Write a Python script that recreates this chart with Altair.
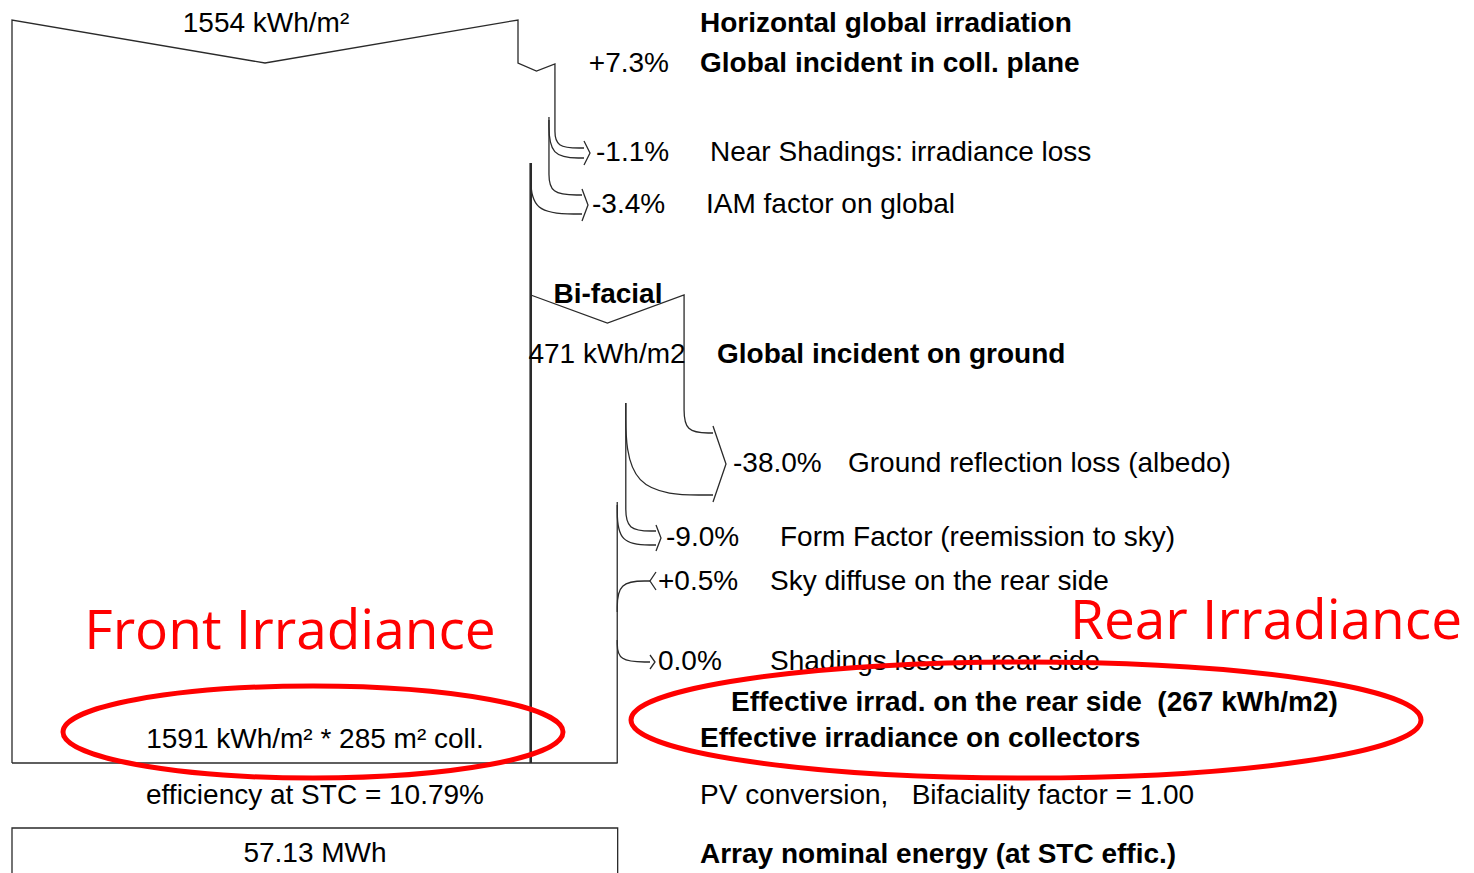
import altair as alt
import pandas as pd

# ---------------- chart values ----------------
horiz_global = 1554                      # kWh/m²
front_steps_pct = [7.3, -1.1, -3.4]
front_step_labels = ["Global incident in coll. plane",
                     "Near Shadings: irradiance loss",
                     "IAM factor on global"]
ground_global = 471                      # kWh/m2
rear_steps_pct = [-38.0, -9.0, 0.5, 0.0]
rear_step_labels = ["Ground reflection loss (albedo)",
                    "Form Factor (reemission to sky)",
                    "Sky diffuse on the rear side",
                    "Shadings loss on rear side"]
front_effective = 1591                   # kWh/m²
collector_area = 285                     # m²
rear_effective = 267                     # kWh/m2
stc_efficiency = 10.79                   # %
bifaciality = 1.00
array_energy = 57.13                     # MWh
annotations = ["Front Irradiance", "Rear Irradiance"]

# ---------------- layout (pixel space of the page) ----------------
W, H = 1458, 865
X0 = 12.0
K = 506.0 / horiz_global                  # px per kWh/m² of flow width


def xf(v, base=X0):
    return base + K * v


def pct_txt(p):
    return f"{p:.1f}%" if p == 0 else f"{p:+.1f}%"


# flow levels from the values
f0 = horiz_global
f1 = f0 * (1 + front_steps_pct[0] / 100)
f2 = f1 * (1 + front_steps_pct[1] / 100)
f3 = f2 * (1 + front_steps_pct[2] / 100)
r0 = ground_global
r1 = r0 * (1 + rear_steps_pct[0] / 100)
r2 = r1 * (1 + rear_steps_pct[1] / 100)
r3 = r2 * (1 + rear_steps_pct[2] / 100)

xa, xb, xc, xd = xf(f0), xf(f1), xf(f2), xf(f3)
xr0, xr1, xr2, xr3 = xf(r0, xd), xf(r1, xd), xf(r2, xd), xf(r3, xd)

# straight polylines
polys = [
    ([(X0, 763), (X0, 20), ((X0 + xa) / 2, 63), (xa, 20), (xa, 63),
      ((xa + xb) / 2, 71), (xb, 64), (xb, 128)], 1.3),
    ([(xc, 117), (xc, 170)], 1.3),
    ([(xd, 163), (xd, 763)], 2.6),
    ([(xd, 295), ((xd + xr0) / 2, 323), (xr0, 295), (xr0, 405)], 1.3),
    ([(xr1, 403), (xr1, 505)], 1.3),
    ([(xr2, 502), (xr2, 763)], 1.3),
    ([(X0, 763), (xr3, 763)], 1.3),
    ([(X0, 880), (X0, 828), (xr3, 828), (xr3, 880)], 1.3),
    # arrow heads
    ([(584, 141), (590, 153), (584, 165)], 1.3),
    ([(582, 189), (588, 205), (582, 221)], 1.3),
    ([(713, 426), (726, 464), (713, 502)], 1.3),
    ([(656, 525), (661, 538), (656, 551)], 1.3),
    ([(656, 572), (650, 581), (656, 590)], 1.3),
    ([(650, 655), (655, 662), (650, 669)], 1.3),
]
# curved branches: start, corner, end
curves = [
    [(xb, 128), (xb, 148), (584, 148)],
    [(xc, 120), (xc, 158), (584, 158)],
    [(xc, 170), (xc, 195), (582, 195)],
    [(xd, 172), (xd, 214), (582, 214)],
    [(xr0, 405), (xr0, 433), (713, 433)],
    [(xr1, 403), (xr1, 495), (713, 495)],
    [(xr1, 505), (xr1, 531), (656, 531)],
    [(xr2, 505), (xr2, 545), (656, 545)],
    [(xr2, 612), (xr2, 581), (650, 581)],
    [(xr2, 640), (xr2, 662), (650, 662)],
]

rows = []
for i, (pts, sw) in enumerate(polys):
    for k, (x, y) in enumerate(pts):
        rows.append({"id": i, "k": k, "x": x, "y": y, "sw": sw})
poly_df = pd.DataFrame(rows)
rows = []
for i, pts in enumerate(curves):
    for k, (x, y) in enumerate(pts):
        rows.append({"id": i, "k": k, "x": x, "y": y})
curve_df = pd.DataFrame(rows)

xs = alt.Scale(domain=[8, 8 + W], nice=False, zero=False)
ys = alt.Scale(domain=[8, 8 + H], nice=False, zero=False, reverse=True)
X = alt.X("x:Q", scale=xs, axis=None)
Y = alt.Y("y:Q", scale=ys, axis=None)

lines = alt.Chart(poly_df).mark_line(color="#2a2a2a", clip=False).encode(
    x=X, y=Y, detail="id:N", order="k:Q",
    strokeWidth=alt.StrokeWidth("sw:Q", scale=None))
clines = alt.Chart(curve_df).mark_line(color="#2a2a2a", strokeWidth=1.3,
                                       interpolate="basis", clip=False).encode(
    x=X, y=Y, detail="id:N", order="k:Q")

NB = "\u00a0"
FONT = "Liberation Sans"


def tl(items, align, weight="normal", size=28, color="black", font=FONT):
    df = pd.DataFrame(items, columns=["x", "y", "t"])
    return alt.Chart(df).mark_text(align=align, baseline="middle", fontSize=size,
                                   fontWeight=weight, font=font, color=color,
                                   clip=False).encode(x=X, y=Y, text="t:N")


texts_left_normal = [
    (596, 153, pct_txt(front_steps_pct[1])), (710, 153, front_step_labels[1]),
    (592, 205, pct_txt(front_steps_pct[2])), (706, 205, front_step_labels[2]),
    (733, 464, pct_txt(rear_steps_pct[0])), (848, 464, rear_step_labels[0]),
    (666, 538, pct_txt(rear_steps_pct[1])), (780, 538, rear_step_labels[1]),
    (658, 582, pct_txt(rear_steps_pct[2])), (770, 582, rear_step_labels[2]),
    (658, 662, pct_txt(rear_steps_pct[3])), (770, 662, rear_step_labels[3]),
    (700, 796, f"PV conversion,{NB}{NB} Bifaciality factor = {bifaciality:.2f}"),
]
texts_left_bold = [
    (700, 24, "Horizontal global irradiation"),
    (700, 64, front_step_labels[0]),
    (717, 355, "Global incident on ground"),
    (731, 703, f"Effective irrad. on the rear side {NB}({rear_effective} kWh/m2)"),
    (700, 739, "Effective irradiance on collectors"),
    (700, 855, "Array nominal energy (at STC effic.)"),
]
texts_right = [(669, 64, pct_txt(front_steps_pct[0]))]
texts_center = [
    (266, 24, f"{horiz_global} kWh/m²"),
    (607, 355, f"{ground_global} kWh/m2"),
    (315, 740, f"{front_effective} kWh/m² * {collector_area} m² coll."),
    (315, 796, f"efficiency at STC = {stc_efficiency:.2f}%"),
    (315, 854, f"{array_energy:.2f} MWh"),
]
texts_center_bold = [(608, 295, "Bi-facial")]
texts_red = [(290, 632, annotations[0]), (1266, 622, annotations[1])]

ELL_L = "M -1 0 A 1 0.184 0 1 1 1 0 A 1 0.184 0 1 1 -1 0 Z"
ELL_R = "M -1 0 A 1 0.147 0 1 1 1 0 A 1 0.147 0 1 1 -1 0 Z"
ell_l = alt.Chart(pd.DataFrame({"x": [313], "y": [732]})).mark_point(
    shape=ELL_L, size=500 ** 2, filled=False, color="#ff0000", strokeWidth=5,
    opacity=1, clip=False).encode(x=X, y=Y)
ell_r = alt.Chart(pd.DataFrame({"x": [1026], "y": [720]})).mark_point(
    shape=ELL_R, size=790 ** 2, filled=False, color="#ff0000", strokeWidth=5,
    opacity=1, clip=False).encode(x=X, y=Y)

chart = alt.layer(
    lines, clines,
    tl(texts_left_normal, "left"),
    tl(texts_left_bold, "left", "bold"),
    tl(texts_right, "right"),
    tl(texts_center, "center"),
    tl(texts_center_bold, "center", "bold"),
    ell_l, ell_r,
    tl(texts_red, "center", size=55, color="#ff0000", font="Open Sans"),
).properties(width=W, height=H, padding=0, autosize="none").configure_view(stroke=None)

chart.save("out.html", embed_options={"renderer": "svg", "actions": False})
